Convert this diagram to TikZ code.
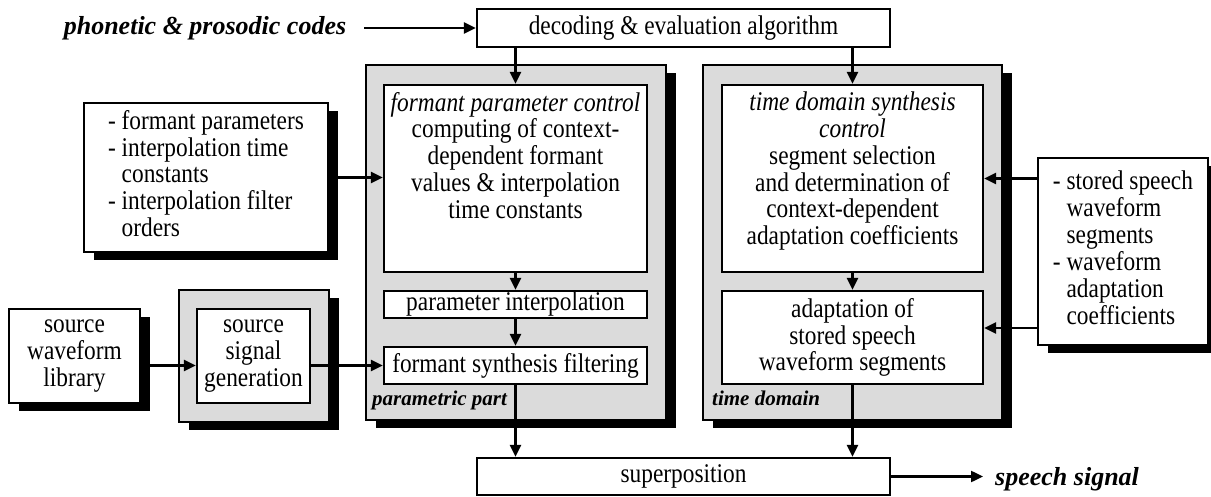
\documentclass[tikz,border=0pt]{standalone}
\usepackage{fontspec}
\setmainfont{Liberation Serif}[FakeStretch=0.865]
\newfontfamily\lblfont{Liberation Serif}
\usetikzlibrary{arrows.meta,shadows}
\newcommand\mfs{\fontsize{27}{26.7}\selectfont}
\newcommand\lblfs{\lblfont\fontsize{26}{30}\selectfont\bfseries\itshape}
\newcommand\smlfs{\lblfont\fontsize{21}{24}\selectfont\bfseries\itshape}
\newcommand\boxat[7]{\node[#6, minimum width={#4-#2}, minimum height={#5-#3}] (#1) at ({(#2+#4)/2},{(#3+#5)/2}) {#7};}
\tikzset{
  wbox/.style={draw, line width=2.2pt, fill=white, inner sep=0pt, align=center, font=\mfs},
  gbox/.style={draw, line width=1.4pt, fill=black!14, inner sep=0pt},
  shad/.style={drop shadow={shadow xshift=10pt, shadow yshift=-8pt, fill=black, opacity=1}},
  arr/.style={line width=2.4pt, -{Triangle[length=12pt,width=11pt]}},
  txt/.style={inner sep=0pt, align=center, font=\mfs},
}
\begin{document}
\begin{tikzpicture}[x=1pt,y=-1pt]
\useasboundingbox (0,0) rectangle (1211,497);
% outer shaded groups
\boxat{pp}{366}{65}{666}{420}{gbox,shad}{}
\boxat{td}{703}{65}{1002}{420}{gbox,shad}{}
\boxat{sgo}{179}{290}{329}{422}{gbox,shad}{}
% white boxes
\boxat{dec}{477}{9}{890}{47}{wbox}{decoding \& evaluation algorithm}
\boxat{fp}{84}{103}{328}{252}{wbox,shad}{\begin{tabular}{@{}l@{ }l@{}}-&formant parameters\\-&interpolation time\\&constants\\-&interpolation filter\\&orders\end{tabular}}
\boxat{fpc}{384}{85}{647}{272}{wbox}{}
\boxat{pi}{384}{291}{647}{318}{wbox}{parameter interpolation}
\boxat{fsf}{384}{347}{647}{384}{wbox}{formant synthesis filtering}
\boxat{tds}{722}{85}{983}{272}{wbox}{}
\boxat{ada}{722}{291}{983}{384}{wbox}{adaptation of\\stored speech\\waveform segments}
\boxat{rb}{1038}{158}{1208}{345}{wbox,shad}{\begin{tabular}{@{}l@{ }l@{}}-&stored speech\\&waveform\\&segments\\-&waveform\\&adaptation\\&coefficients\end{tabular}}
\boxat{swl}{9}{309}{140}{403}{wbox,shad}{source\\waveform\\library}
\boxat{sgi}{197}{309}{310}{403}{wbox}{source\\signal\\generation}
\boxat{sup}{477}{458}{890}{495}{wbox}{superposition}
% top-aligned texts
\node[txt, anchor=north] (fpct) at (515.5,92) {\itshape formant parameter control\\computing of context-\\dependent formant\\values \& interpolation\\time constants};
\node[txt, anchor=north] (tdst) at (852.5,92) {\itshape time domain synthesis\\\itshape control\\segment selection\\and determination of\\context-dependent\\adaptation coefficients};
% labels
\node[inner sep=0pt, font=\lblfs, anchor=base] (ph) at (205,35) {phonetic \& prosodic codes};
\node[inner sep=0pt, font=\lblfs, anchor=base west] (ss) at (995,485) {speech signal};
\node[inner sep=0pt, font=\smlfs, anchor=base west] (ppl) at (372,405) {parametric part};
\node[inner sep=0pt, font=\smlfs, anchor=base west] (tdl) at (712,405) {time domain};
% connectors
\draw[arr] ([xshift=18pt]ph.east |- dec.west) -- (dec.west);
\draw[arr] (fpc.north |- dec.south) -- (fpc.north);
\draw[arr] (tds.north |- dec.south) -- (tds.north);
\draw[arr] (fp.east) -- (fp.east -| fpc.west);
\draw[arr] (fpc.south) -- (pi.north);
\draw[arr] (pi.south) -- (fsf.north);
\draw[arr] (swl.east |- fsf.west) -- (sgi.west |- fsf.west);
\draw[arr] (sgi.east |- fsf.west) -- (fsf.west);
\draw[arr] (fsf.south) -- (fsf.south |- sup.north);
\draw[arr] (tds.south) -- (ada.north);
\draw[arr] (ada.south) -- (ada.south |- sup.north);
\draw[arr] (rb.west |- tds.east) -- (tds.east);
\coordinate (adain) at ([yshift=9.5pt]ada.east);
\draw[arr] (adain -| rb.west) -- (adain);
\draw[arr] (sup.east) -- ([xshift=-12pt]ss.west |- sup.east);
\end{tikzpicture}
\end{document}
